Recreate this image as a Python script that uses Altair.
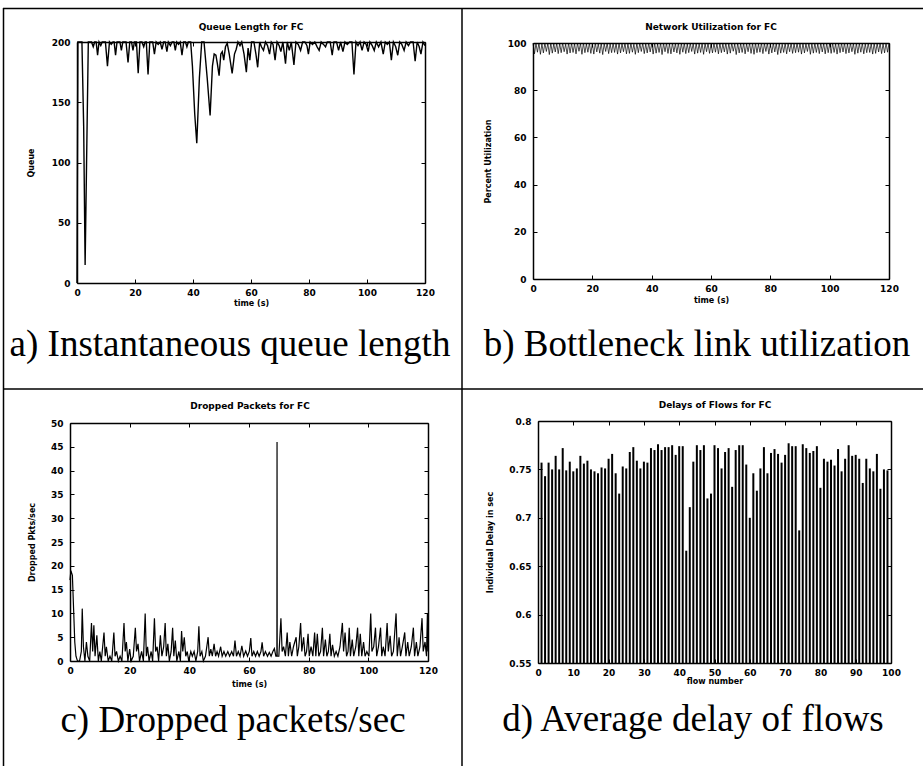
import altair as alt
import pandas as pd

# ---------------- data ----------------
# a) queue length (time s, packets)
queue_pts = [(0,0),(0.3,200),(1.7,200),(2.3,130),(2.8,15),(3.3,100),(3.9,200),(5.0,200),(5.6,196),(6.1,200),
(6.6,200),(7.1,189),(7.6,200),(8.2,197),(8.7,200),(9.8,200),(10.5,180),(11.2,200),(11.8,198),(12.4,200),
(12.8,200),(13.3,189),(13.8,200),(14.8,200),(15.3,193),(15.8,200),(16.9,200),(17.6,183),(18.2,200),(18.8,200),
(19.3,193),(19.8,200),(20.5,200),(21.1,174),(21.7,200),(22.4,200),(23.0,196),(23.5,200),(23.9,200),(24.5,173),
(25.1,200),(26.1,200),(26.7,190),(27.3,200),(28.0,198),(28.7,200),(29.3,194),(29.9,200),(30.4,200),(31.0,192),
(31.5,200),(32.2,197),(32.8,200),(33.4,200),(33.9,193),(34.4,200),(35.0,198),(35.6,200),(36.2,189),(36.8,200),
(37.4,200),(37.9,196),(38.4,200),(39.2,200),(39.8,180),(40.6,140),(41.3,116),(42.2,170),(43.0,200),(43.8,200),
(44.9,170),(45.9,139),(46.7,180),(47.3,190),(47.9,189),(48.4,182),(49.0,172),(49.6,190),(50.1,192),(50.6,185),
(51.2,196),(51.8,199),(52.5,190),(53.5,174),(54.3,190),(54.9,194),(55.5,200),(56.2,197),(56.8,200),(57.6,190),
(58.4,175),(59.0,195),(59.6,185),(60.2,200),(61.0,200),(61.7,190),(62.3,179),(63.0,200),(63.6,196),(64.3,193),
(65.0,200),(65.7,197),(66.4,190),(67.0,200),(67.6,198),(68.3,185),(69.0,200),(69.7,197),(70.3,192),(71.0,200),
(71.9,182),(72.5,200),(73.2,193),(73.9,200),(74.8,181),(75.5,200),(76.3,198),(77.1,193),(77.8,200),(78.6,200),
(79.3,197),(79.8,190),(80.4,200),(81.2,198),(82.0,200),(82.8,196),(83.5,193),(84.2,200),(85.0,198),(85.7,196),
(86.3,200),(87.3,200),(88.0,189),(88.6,200),(89.5,200),(90.2,193),(90.9,200),(91.7,192),(92.4,200),(93.2,198),
(94.0,200),(94.8,200),(95.5,173),(96.2,200),(96.9,197),(97.6,200),(98.3,193),(99.0,200),(99.7,198),(100.4,192),
(101.0,200),(101.8,197),(102.5,193),(103.2,200),(104.0,196),(104.8,200),(105.6,190),(106.3,200),(107.0,198),(107.7,200),
(108.4,185),(109.1,200),(109.9,196),(110.6,189),(111.3,200),(112.0,198),(112.8,193),(113.5,200),(114.3,197),(115.0,200),
(115.9,200),(116.6,184),(117.3,200),(118.0,196),(118.6,190),(119.3,200),(120,197)]
queue_t = [p[0] for p in queue_pts]
queue_v = [p[1] for p in queue_pts]

# b) link utilisation (%), one sample every 0.5 s
util_v = [100, 95.4, 99.8, 96.1, 100, 95.2, 99.6, 95.8, 100, 96.4, 99.9, 95.1, 100, 95.7, 99.7, 96.2, 100, 95.5, 99.8, 95.9,
100, 96.3, 99.5, 95.3, 100, 95.8, 99.9, 96.0, 99.7, 95.4, 100, 96.5, 99.8, 95.2, 100, 95.9, 99.6, 96.1, 100, 95.6,
99.9, 95.3, 100, 96.2, 99.7, 95.7, 100, 95.1, 99.8, 96.4, 100, 95.5, 99.6, 95.9, 100, 96.0, 99.9, 95.3, 100, 95.8,
99.7, 96.3, 100, 95.4, 99.8, 95.6, 100, 96.1, 99.5, 95.2, 100, 95.9, 99.9, 96.4, 100, 95.5, 99.7, 95.8, 100, 96.2,
99.8, 95.3, 100, 95.7, 99.6, 96.0, 100, 95.1, 99.9, 96.3, 100, 95.6, 99.7, 95.4, 100, 96.2, 99.8, 95.8, 100, 95.2,
99.9, 96.1, 100, 95.5, 99.6, 95.9, 100, 96.4, 99.8, 95.3, 100, 95.7, 99.7, 96.0, 100, 95.2, 99.9, 96.3, 100, 95.6,
99.5, 95.8, 100, 96.1, 99.8, 95.4, 100, 95.9, 99.7, 96.2, 100, 95.3, 99.9, 95.7, 100, 96.5, 99.6, 95.1, 100, 95.8,
99.8, 96.0, 100, 95.4, 99.7, 96.3, 100, 95.6, 99.9, 95.2, 100, 95.9, 99.6, 96.1, 100, 95.5, 99.8, 96.4, 100, 95.3,
99.7, 95.8, 100, 96.2, 99.9, 95.1, 100, 95.7, 99.5, 96.0, 100, 95.4, 99.8, 96.3, 100, 95.6, 99.7, 95.9, 100, 96.1,
99.9, 95.3, 100, 95.8, 99.6, 96.4, 100, 95.2, 99.8, 95.7, 100, 96.0, 99.7, 95.5, 100, 96.2, 99.9, 95.4, 100, 95.9,
99.8, 95.6, 100, 96.0, 99.7, 95.3, 100, 95.9, 99.9, 96.2, 100, 95.5, 99.6, 95.8, 100, 96.3, 99.8, 95.2, 100, 95.7,
99.9, 96.1, 100, 95.4, 99.7, 95.9, 100, 96.0, 99.8, 95.3, 100, 95.6, 99.9, 96.2, 100, 95.5, 99.7, 95.8, 100, 96.1, 100]
util_t = [i * 0.5 for i in range(len(util_v))]

# c) dropped packets per second
drop_pts = [(0,17),(0.3,19),(0.8,18),(1.2,11),(1.6,4),(2.0,1),(2.5,0),(3.2,0),(3.8,2),(4.1,11),(4.5,3),(5.0,0),(5.5,4),
(6.0,1),(6.6,0),(7.2,8),(7.6,2),(8.0,7.5),(8.4,1),(9.0,5.4),(9.5,0),(10.0,2),(10.5,0),(11.4,6),(11.8,1),(12.2,3),
(12.8,0),(13.4,1),(14.0,0),(14.7,6),(15.1,1),(15.6,2),(16.2,0),(16.8,1),(17.4,0),(18.1,8),(18.5,2),(18.9,4),(19.4,0),
(20.0,2.5),(20.5,0),(21.2,1),(21.9,7),(22.3,2),(22.8,3.6),(23.3,0),(24.0,2),(24.6,0),(25.2,10),(25.6,1),(26.0,3),
(26.5,0),(27.2,2),(27.7,0),(28.3,9),(28.7,2),(29.2,3),(29.7,0),(30.3,5.4),(30.8,1),(31.4,3),(31.9,8),(32.3,1),
(32.8,3.6),(33.3,0),(33.9,2),(34.4,7),(34.8,1),(35.3,4.3),(35.8,0),(36.5,2),(37.0,0),(37.4,6.3),(37.8,2),(38.3,5),
(38.8,1),(39.3,2),(39.8,0),(40.5,2),(41.0,1),(41.6,2),(42.2,0),(42.8,2),(43.2,7.3),(43.6,1),(44.2,2),(44.7,0),
(45.4,1),(46.3,5),(46.7,1),(47.2,2.5),(47.7,1),(48.3,3.6),(48.8,1),(49.3,2),(49.8,1),(50.5,3),(51.0,1),(51.6,2),
(52.2,1),(52.9,2),(53.5,1),(54.2,2),(54.8,1),(55.3,4.3),(55.8,1),(56.4,2),(57.0,1),(57.6,3.2),(58.2,1),(58.9,2.1),
(59.5,1),(60.1,2),(60.6,4.8),(61.0,1),(61.6,2),(62.2,1),(62.8,2),(63.4,1),(64.0,2),(64.4,3.9),(64.9,1),(65.5,2),
(66.2,1),(66.8,1.8),(67.4,1),(68.0,2),(68.5,2.6),(69.0,1),(69.35,1),(69.4,46),(69.45,1),(70.0,1),(70.7,9),(71.1,2),
(71.6,3),(72.2,1),(72.8,6),(73.2,1),(73.7,4),(74.3,1),(74.9,3),(75.8,5),(76.2,1),(76.7,3),(77.3,8),(77.7,2),(78.3,5),
(78.8,1),(79.3,2),(79.8,5.7),(80.2,1),(80.8,3),(81.4,1),(82.0,6),(82.4,1),(82.9,5.7),(83.4,1),(84.0,2),(84.6,7),
(85.0,1),(85.6,4.5),(86.1,1),(86.6,2),(87.1,5.7),(87.5,1),(88.0,3.4),(88.6,1),(89.2,2),(89.8,1),(90.5,3),(91.3,8),
(91.7,2),(92.2,6),(92.7,1),(93.2,2),(93.6,7),(94.0,1),(94.6,4.5),(95.1,1),(95.8,3),(96.4,7),(96.8,1),(97.3,5.7),
(97.8,1),(98.4,4),(98.9,1),(99.5,2),(100.2,1),(100.8,10),(101.2,2),(101.8,3),(102.4,7),(102.8,1),(103.4,3),(104.1,7),
(104.5,1),(105.0,3),(105.6,1),(106.3,8),(106.7,2),(107.3,5.3),(107.8,1),(108.4,2),(109.3,10),(109.7,1),(110.3,5),
(110.8,1),(111.4,3),(112.2,6),(112.6,1),(113.2,4),(113.7,1),(114.4,3),(115.1,7),(115.5,1),(116.1,4),(116.6,1),
(117.3,3),(118.0,9),(118.4,2),(119.0,4),(119.5,1),(119.8,10),(120,2)]
drop_t = [p[0] for p in drop_pts]
drop_v = [p[1] for p in drop_pts]

# d) average delay per flow (s)
delay_v = [0.757,0.743,0.757,0.750,0.764,0.750,0.772,0.749,0.758,0.748,
0.751,0.764,0.756,0.759,0.750,0.748,0.746,0.752,0.751,0.761,
0.766,0.746,0.725,0.753,0.751,0.768,0.773,0.759,0.751,0.758,
0.757,0.772,0.770,0.776,0.770,0.773,0.773,0.775,0.765,0.774,
0.774,0.666,0.711,0.758,0.775,0.770,0.775,0.720,0.725,0.775,
0.772,0.751,0.768,0.772,0.732,0.770,0.775,0.775,0.755,0.700,
0.746,0.728,0.751,0.773,0.746,0.767,0.771,0.766,0.757,0.765,
0.777,0.774,0.774,0.687,0.776,0.772,0.767,0.769,0.774,0.731,
0.761,0.758,0.760,0.754,0.771,0.748,0.761,0.775,0.764,0.765,
0.761,0.736,0.761,0.751,0.748,0.766,0.730,0.750,0.749]
flow_n = list(range(1, len(delay_v) + 1))

titles = ["Queue Length for FC", "Network Utilization for FC", "Dropped Packets for FC", "Delays of Flows for FC"]
captions = ["a) Instantaneous queue length", "b) Bottleneck link utilization",
            "c) Dropped packets/sec", "d) Average delay of flows"]
time_ticks = [0, 20, 40, 60, 80, 100, 120]

W, H = 923, 766
SANS = "DejaVu Sans"
SERIF = "Liberation Serif"


def txt(s, x, y, size, font, weight="normal", baseline="middle"):
    return alt.Chart(pd.DataFrame({"s": [s]})).mark_text(
        font=font, fontSize=size, fontWeight=weight, baseline=baseline, align="center", color="black"
    ).encode(text="s:N", x=alt.value(x), y=alt.value(y))


def rule(x1, x2, y1, y2):
    return alt.Chart(pd.DataFrame({"k": [0]})).mark_rule(color="black", strokeWidth=1.5).encode(
        x=alt.value(x1), x2=alt.value(x2), y=alt.value(y1), y2=alt.value(y2))


def panel(chart, xf, yf, xdom, ydom, frame, xvals, yvals, xtitle, ytitle, xt_y, yt_x, yfmt=None, y2=None):
    """frame = (left, right, top, bottom) of the plot box in page pixels."""
    x0, x1, y0, y1 = frame
    xs = alt.Scale(domain=xdom, range=[x0, x1], nice=False, zero=False)
    ys = alt.Scale(domain=ydom, range=[y1, y0], nice=False, zero=False)
    ykw = {"format": yfmt} if yfmt else {}
    enc = dict(
        x=alt.X(xf, scale=xs, axis=alt.Axis(
            orient="bottom", offset=y1 - H, values=xvals, title=xtitle,
            titleX=(x0 + x1) / 2, titleY=xt_y - y1, titleBaseline="middle", titleAlign="center",
            ticks=False, tickSize=0, labelPadding=5, domain=True, labelFlush=False)),
        y=alt.Y(yf, scale=ys, axis=alt.Axis(
            orient="left", offset=-x0, values=yvals, title=ytitle,
            titleX=yt_x - x0, titleY=(y0 + y1) / 2, titleAngle=270, titleBaseline="middle",
            titleAlign="center", ticks=False, tickSize=0, labelPadding=7, domain=True,
            labelFlush=False, **ykw)),
    )
    if y2 is not None:
        enc["y2"] = alt.datum(y2)
    main = chart.encode(**enc)
    data = chart.data
    # inward ticks on bottom & left edges
    tick_a = alt.Chart(data).mark_point(opacity=0).encode(
        x=alt.X(xf, scale=xs, axis=alt.Axis(orient="top", offset=-y1, values=xvals, labels=False,
                                            title=None, domain=False, ticks=True, tickSize=4)),
        y=alt.Y(yf, scale=ys, axis=alt.Axis(orient="right", offset=x0 - W, values=yvals, labels=False,
                                            title=None, domain=False, ticks=True, tickSize=4)))
    # inward ticks + frame on top & right edges
    tick_b = alt.Chart(data).mark_point(opacity=0).encode(
        x=alt.X(xf, scale=xs, axis=alt.Axis(orient="bottom", offset=y0 - H, values=xvals, labels=False,
                                            title=None, domain=True, ticks=True, tickSize=4)),
        y=alt.Y(yf, scale=ys, axis=alt.Axis(orient="left", offset=-x1, values=yvals, labels=False,
                                            title=None, domain=True, ticks=True, tickSize=4)))
    return [main, tick_a, tick_b]


# ---- panel a ----
dfa = pd.DataFrame({"t": queue_t, "q": queue_v})
la = panel(alt.Chart(dfa).mark_line(color="black", strokeWidth=1.4), "t:Q", "q:Q", [0, 120], [0, 200],
           (77, 425, 42, 283), time_ticks, [0, 50, 100, 150, 200], "time (s)", "Queue", 303, 31)

# ---- panel b ----
dfb = pd.DataFrame({"t": util_t, "u": util_v})
lb = panel(alt.Chart(dfb).mark_line(color="black", strokeWidth=0.7), "t:Q", "u:Q", [0, 120], [0, 100],
           (533, 889, 43, 279), time_ticks, [0, 20, 40, 60, 80, 100], "time (s)", "Percent Utilization", 300, 488)

# ---- panel c ----
dfc = pd.DataFrame({"t": drop_t, "d": drop_v})
lc = panel(alt.Chart(dfc).mark_line(color="black", strokeWidth=1.2), "t:Q", "d:Q", [0, 120], [0, 50],
           (70, 428, 423, 661), time_ticks, [0, 5, 10, 15, 20, 25, 30, 35, 40, 45, 50],
           "time (s)", "Dropped Pkts/sec", 684, 32)

# ---- panel d ----
dfd = pd.DataFrame({"flow": flow_n, "delay": delay_v})
ld = panel(alt.Chart(dfd).mark_rule(color="black", strokeWidth=2), "flow:Q", "delay:Q", [0, 100], [0.55, 0.8],
           (538, 891, 421, 663), [0, 10, 20, 30, 40, 50, 60, 70, 80, 90, 100],
           [0.55, 0.6, 0.65, 0.7, 0.75, 0.8], "flow number", "Individual Delay in sec", 681, 490,
           yfmt="~g", y2=0.55)

decor = [
    txt(titles[0], 251, 27, 9, SANS, "bold"),
    txt(titles[1], 711, 27, 9, SANS, "bold"),
    txt(titles[2], 250, 406, 9, SANS, "bold"),
    txt(titles[3], 715, 405, 9, SANS, "bold"),
    txt(captions[0], 230, 356, 37, SERIF, baseline="alphabetic"),
    txt(captions[1], 697, 356, 37, SERIF, baseline="alphabetic"),
    txt(captions[2], 233, 732, 37, SERIF, baseline="alphabetic"),
    txt(captions[3], 693, 731, 37, SERIF, baseline="alphabetic"),
    rule(3.5, 3.5, 8, 766),
    rule(3, 923, 8.5, 8.5),
    rule(462, 462, 8, 766),
    rule(3, 923, 389, 389),
]

chart = alt.layer(*(la + lb + lc + ld + decor)).resolve_scale(
    x="independent", y="independent"
).resolve_axis(
    x="independent", y="independent"
).properties(
    width=W, height=H, autosize=alt.AutoSizeParams(type="none"), padding=0, background="white"
).configure_view(
    strokeWidth=0
).configure_axis(
    labelFont=SANS, labelFontSize=9, labelFontWeight="bold", labelColor="black",
    titleFont=SANS, titleFontSize=8, titleFontWeight="bold", titleColor="black",
    grid=False, tickColor="black", tickWidth=1, domainColor="black", domainWidth=1.5,
)

chart.save("out.html", embed_options={"renderer": "svg", "actions": False})
